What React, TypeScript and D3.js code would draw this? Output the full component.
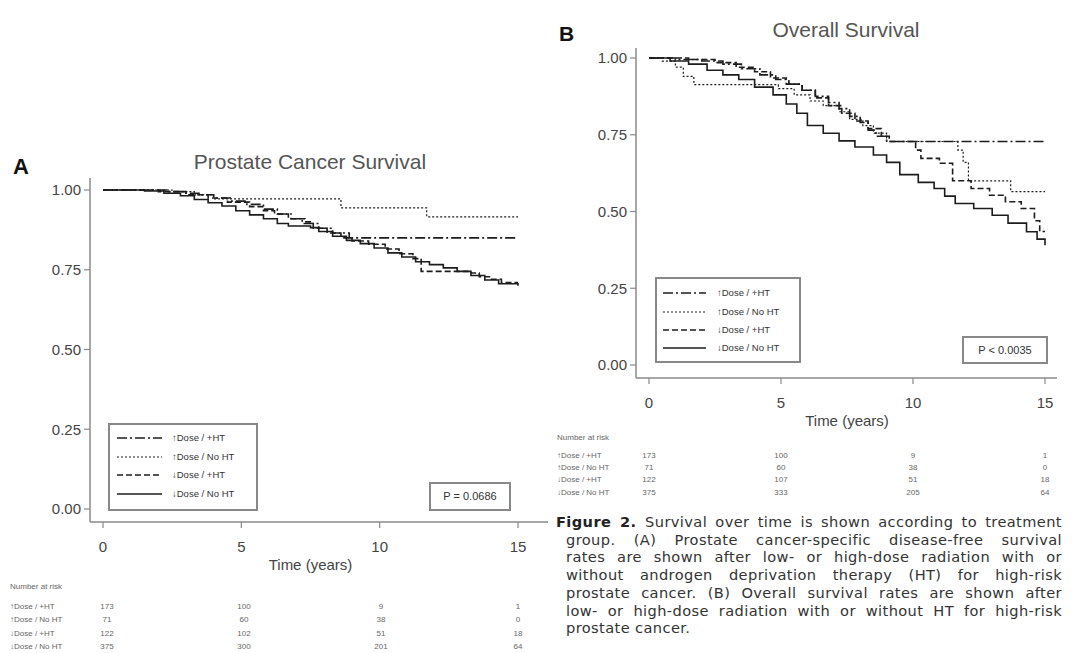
import React, { useLayoutEffect, useRef } from 'react';
import * as d3 from 'd3';

// groups in legend order
const groups = ['\u2191Dose / +HT', '\u2191Dose / No HT', '\u2193Dose / +HT', '\u2193Dose / No HT'];
const dashes = ['10,3,2,3', '2,2', '6,3', 'none'];
const xTicks = [0, 5, 10, 15];
const yTicks = [0, 0.25, 0.5, 0.75, 1];
const riskTimes = [0, 5, 10, 15];

// A: prostate cancer survival  [years, survival]
const aUpHT: [number, number][] = [[0, 1], [2.3, 0.995], [3.0, 0.99], [3.5, 0.985], [4.0, 0.975], [4.6, 0.965], [5.2, 0.955], [5.8, 0.94], [6.3, 0.925], [6.8, 0.91], [7.2, 0.895], [7.8, 0.88], [8.3, 0.865], [8.9, 0.85], [15, 0.85]];
const aUpNoHT: [number, number][] = [[0, 1], [2.5, 0.995], [3.3, 0.985], [4.0, 0.972], [8.6, 0.944], [11.7, 0.916], [15, 0.916]];
const aDownHT: [number, number][] = [[0, 1], [2.0, 0.995], [3.0, 0.985], [3.8, 0.975], [4.5, 0.962], [5.3, 0.948], [5.8, 0.935], [6.2, 0.925], [6.7, 0.91], [7.3, 0.9], [7.6, 0.88], [8.1, 0.865], [8.6, 0.85], [9.0, 0.84], [9.6, 0.83], [10.2, 0.815], [10.7, 0.8], [11.2, 0.785], [11.5, 0.745], [13.3, 0.74], [13.6, 0.728], [14.0, 0.72], [14.4, 0.71], [15, 0.71]];
const aDownNoHT: [number, number][] = [[0, 1], [1.5, 0.997], [2.2, 0.99], [2.8, 0.982], [3.3, 0.97], [3.8, 0.96], [4.3, 0.95], [4.8, 0.935], [5.3, 0.922], [5.8, 0.91], [6.3, 0.895], [6.7, 0.887], [7.5, 0.882], [7.8, 0.87], [8.3, 0.855], [8.8, 0.842], [9.3, 0.832], [9.8, 0.818], [10.3, 0.803], [10.8, 0.79], [11.3, 0.775], [11.8, 0.766], [12.3, 0.756], [12.8, 0.745], [13.3, 0.732], [13.8, 0.718], [14.3, 0.706], [15, 0.7]];

// B: overall survival
const bUpHT: [number, number][] = [[0, 1], [1.0, 0.995], [2.0, 0.99], [2.8, 0.98], [3.5, 0.965], [4.2, 0.945], [4.8, 0.93], [5.3, 0.915], [5.8, 0.895], [6.3, 0.875], [6.8, 0.855], [7.2, 0.835], [7.6, 0.81], [8.0, 0.79], [8.3, 0.765], [8.6, 0.745], [9.0, 0.728], [15, 0.728]];
const bUpNoHT: [number, number][] = [[0, 1], [0.5, 0.99], [1.0, 0.97], [1.3, 0.94], [1.7, 0.913], [4.9, 0.9], [5.5, 0.88], [6.1, 0.86], [6.6, 0.845], [7.2, 0.825], [7.6, 0.8], [8.1, 0.78], [8.5, 0.755], [9.0, 0.728], [11.7, 0.7], [11.9, 0.66], [12.1, 0.6], [13.7, 0.565], [15, 0.565]];
const bDownHT: [number, number][] = [[0, 1], [1.5, 0.995], [2.5, 0.985], [3.3, 0.97], [4.0, 0.955], [4.6, 0.935], [5.2, 0.915], [5.8, 0.895], [6.3, 0.87], [6.8, 0.845], [7.3, 0.82], [7.8, 0.795], [8.3, 0.77], [8.8, 0.745], [9.1, 0.728], [10.1, 0.7], [10.3, 0.673], [11.0, 0.657], [11.5, 0.6], [12.2, 0.575], [12.9, 0.553], [13.5, 0.532], [14.1, 0.51], [14.6, 0.47], [14.8, 0.435], [15, 0.435]];
const bDownNoHT: [number, number][] = [[0, 1], [0.8, 0.99], [1.5, 0.98], [2.2, 0.96], [2.8, 0.945], [3.4, 0.93], [4.0, 0.905], [4.7, 0.88], [5.2, 0.85], [5.6, 0.82], [6.0, 0.78], [6.6, 0.755], [7.2, 0.73], [7.8, 0.71], [8.5, 0.684], [9.0, 0.66], [9.5, 0.62], [10.2, 0.595], [10.8, 0.575], [11.2, 0.55], [11.6, 0.526], [12.3, 0.51], [13.0, 0.488], [13.6, 0.462], [14.3, 0.434], [14.7, 0.41], [15, 0.39]];

// number at risk
const aRisk = [[173, 100, 9, 1], [71, 60, 38, 0], [122, 102, 51, 18], [375, 300, 201, 64]];
const bRisk = [[173, 100, 9, 1], [71, 60, 38, 0], [122, 107, 51, 18], [375, 333, 205, 64]];

const captionLines = [
  'Survival over time is shown according to treatment',
  'group. (A) Prostate cancer-specific disease-free survival',
  'rates are shown after low- or high-dose radiation with or',
  'without androgen deprivation therapy (HT) for high-risk',
  'prostate cancer. (B) Overall survival rates are shown after',
  'low- or high-dose radiation with or without HT for high-risk',
  'prostate cancer.',
];

const INK = '#1c1c1c';
const AXIS = '#8a8a8a';
const TXT = '#444';
const SANS = 'Liberation Sans, Arial, sans-serif';

function Panel(p: any) {
  const x = d3.scaleLinear().domain([0, 15]).range(p.xr);
  const y = d3.scaleLinear().domain([0, 1]).range(p.yr);
  const line = d3.line<[number, number]>().x(d => x(d[0])).y(d => y(d[1])).curve(d3.curveStepAfter);
  const riskX = d3.scaleLinear().domain([0, 15]).range(p.riskRange);
  return (
    <g>
      <text x={p.letter[1]} y={p.letter[2]} fontFamily={SANS} fontWeight="bold" fontSize={p.letterSize} fill="#111">{p.letter[0]}</text>
      <text x={p.title[1]} y={p.title[2]} textAnchor="middle" fontFamily={SANS} fontSize={21} fill="#555">{p.title[0]}</text>
      {/* axes */}
      <line x1={p.axX} x2={p.axX} y1={p.axTop} y2={p.axY} stroke={AXIS} strokeWidth={1.5} />
      <line x1={p.axX} x2={p.axRight} y1={p.axY} y2={p.axY} stroke={AXIS} strokeWidth={1.5} />
      {yTicks.map(t => (
        <g key={'y' + t}>
          <line x1={p.axX - 6} x2={p.axX} y1={y(t)} y2={y(t)} stroke={AXIS} strokeWidth={1.2} />
          <text x={p.axX - 9} y={y(t)} dy="0.35em" textAnchor="end" fontFamily={SANS} fontSize={15} fill={TXT}>{d3.format('.2f')(t)}</text>
        </g>
      ))}
      {xTicks.map(t => (
        <g key={'x' + t}>
          <line x1={x(t)} x2={x(t)} y1={p.axY} y2={p.axY + 6} stroke={AXIS} strokeWidth={1.2} />
          <text x={x(t)} y={p.axY + 30} textAnchor="middle" fontFamily={SANS} fontSize={15} fill={TXT}>{t}</text>
        </g>
      ))}
      <text x={(x(0) + x(15)) / 2} y={p.axY + 48} textAnchor="middle" fontFamily={SANS} fontSize={15} fill={TXT}>Time (years)</text>
      {/* curves */}
      {p.series.map((s: [number, number][], i: number) => (
        <path key={'s' + i} d={line(s) || ''} fill="none" stroke={INK} strokeWidth={i === 1 ? 1.2 : 1.6} strokeDasharray={dashes[i]} />
      ))}
      {/* legend */}
      <rect x={p.leg[0]} y={p.leg[1]} width={p.leg[2]} height={p.leg[3]} fill="#fff" stroke="#888" strokeWidth={2} />
      {groups.map((g, i) => (
        <g key={'l' + i}>
          <line x1={p.legSample[0]} x2={p.legSample[1]} y1={p.legRows[i]} y2={p.legRows[i]} stroke={INK} strokeWidth={i === 1 ? 1.1 : 1.6} strokeDasharray={dashes[i]} />
          <text x={p.legText} y={p.legRows[i]} dy="0.35em" fontFamily={SANS} fontSize={9.5} fill="#333">{g}</text>
        </g>
      ))}
      <rect x={p.pbox[0]} y={p.pbox[1]} width={p.pbox[2]} height={p.pbox[3]} fill="#fff" stroke="#888" strokeWidth={2} />
      <text x={p.pbox[0] + p.pbox[2] / 2} y={p.pbox[1] + p.pbox[3] / 2} dy="0.35em" textAnchor="middle" fontFamily={SANS} fontSize={11} fill="#333">{p.pText}</text>
      {/* number at risk */}
      <text x={p.riskLeft} y={p.riskTitleY} dy="0.35em" fontFamily={SANS} fontSize={8} fill="#666">Number at risk</text>
      {groups.map((g, i) => (
        <g key={'r' + i}>
          <text x={p.riskLeft} y={p.riskRows[i]} dy="0.35em" fontFamily={SANS} fontSize={8} fill="#666">{g}</text>
          {riskTimes.map((t, j) => (
            <text key={j} x={riskX(t)} y={p.riskRows[i]} dy="0.35em" textAnchor="middle" fontFamily={SANS} fontSize={8} fill="#666">{p.risk[i][j]}</text>
          ))}
        </g>
      ))}
    </g>
  );
}

export default function App() {
  const capRef = useRef<SVGGElement>(null);
  const capX = 566, capR = 1062, capY0 = 527, capDy = 17.7;

  // justify caption lines by spreading word gaps
  useLayoutEffect(() => {
    const texts = d3.select(capRef.current).selectAll<SVGTextElement, unknown>('text').nodes();
    texts.forEach((el, i) => {
      if (i === texts.length - 1) return;
      const x0 = +(el.getAttribute('x') || 0);
      const w = el.getComputedTextLength();
      const gaps = (el.textContent || '').trim().split(/\s+/).length - 1;
      if (gaps > 0) el.setAttribute('word-spacing', String((capR - x0 - w) / gaps));
    });
  }, []);

  return (
    <div style={{ position: 'absolute', left: 0, top: 0 }}>
      <svg width={1081} height={653} style={{ display: 'block', background: '#fff' }}>
        <Panel
          letter={['A', 13, 174]} letterSize={22}
          title={['Prostate Cancer Survival', 310, 169]}
          xr={[103, 518]} yr={[509, 190]}
          axX={90} axTop={178} axY={522} axRight={548}
          series={[aUpHT, aUpNoHT, aDownHT, aDownNoHT]}
          leg={[109, 424, 148, 86]} legRows={[438, 457, 475, 494]} legSample={[117, 162]} legText={172}
          pbox={[430, 483, 80, 27]} pText="P = 0.0686"
          riskLeft={10} riskTitleY={586} riskRows={[606, 619, 633, 646]} riskRange={[107, 518]} risk={aRisk}
        />
        <Panel
          letter={['B', 559, 41]} letterSize={21}
          title={['Overall Survival', 846, 37]}
          xr={[649, 1045]} yr={[365, 58]}
          axX={636} axTop={48} axY={378} axRight={1057}
          series={[bUpHT, bUpNoHT, bDownHT, bDownNoHT]}
          leg={[656, 278, 144, 84]} legRows={[293, 312, 330, 348]} legSample={[663, 706]} legText={717}
          pbox={[963, 337, 84, 26]} pText="P < 0.0035"
          riskLeft={557} riskTitleY={437} riskRows={[455, 467, 479, 492]} riskRange={[649, 1045]} risk={bRisk}
        />
        <g ref={capRef}>
          {captionLines.map((l, i) => (
            <text key={i} x={i === 0 ? 556 : capX} y={capY0 + i * capDy} fontFamily="DejaVu Sans, sans-serif" fontSize={14.6} letterSpacing={0.4} fill="#333">
              {i === 0 ? <tspan fontWeight="bold" fill="#222">Figure 2. </tspan> : null}
              {l}
            </text>
          ))}
        </g>
      </svg>
    </div>
  );
}
